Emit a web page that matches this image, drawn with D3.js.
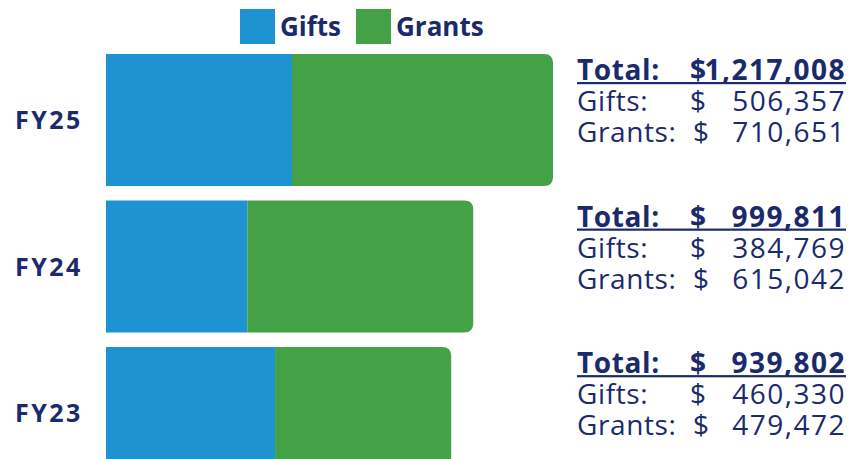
<!DOCTYPE html>
<html>
<head>
<meta charset="utf-8">
<script src="https://cdn.jsdelivr.net/npm/d3@7"></script>
<style>
  body { margin: 0; background: #fff; }
  svg { display: block; font-family: "Open Sans", Lato, sans-serif; }
</style>
</head>
<body>
<svg width="858" height="459"></svg>
<script>
var years = ["FY25", "FY24", "FY23"];
var gifts = [506357, 384769, 460330];
var grants = [710651, 615042, 479472];
var keys = ["Gifts", "Grants"];
var colors = ["#1e93d2", "#45a145"];
var navy = "#1b2a6b";

var svg = d3.select("svg"),
    width = +svg.attr("width"),
    height = +svg.attr("height");

var rows = years.map(function (d, i) {
    return { year: d, Gifts: gifts[i], Grants: grants[i], total: gifts[i] + grants[i] };
});

var x = d3.scaleLinear()
    .domain([0, d3.max(rows, function (d) { return d.total; })])
    .range([106, 553]);

var y = d3.scaleBand()
    .domain(years)
    .range([54, 479])
    .paddingInner(0.1)
    .paddingOuter(0);

var color = d3.scaleOrdinal().domain(keys).range(colors);

var stack = d3.stack().keys(keys)(rows);

// legend
var legend = svg.append("g").attr("class", "legend");
var lx = [240, 356];
keys.forEach(function (k, i) {
    legend.append("rect")
        .attr("x", lx[i]).attr("y", 9)
        .attr("width", 35).attr("height", 35)
        .attr("fill", color(k));
    legend.append("text")
        .attr("x", lx[i] + 40).attr("y", 36)
        .attr("fill", navy)
        .attr("font-size", 26)
        .attr("font-weight", "bold")
        .text(k);
});

// right end of the last segment gets rounded corners
function roundRight(x0, x1, y0, h, r) {
    return "M" + x0 + "," + y0 +
        "H" + (x1 - r) +
        "Q" + x1 + "," + y0 + " " + x1 + "," + (y0 + r) +
        "V" + (y0 + h - r) +
        "Q" + x1 + "," + (y0 + h) + " " + (x1 - r) + "," + (y0 + h) +
        "H" + x0 + "Z";
}

svg.append("g").selectAll("g")
    .data(stack)
    .enter().append("g")
    .attr("fill", function (d) { return color(d.key); })
    .each(function (s, si) {
        d3.select(this).selectAll("path")
            .data(s)
            .enter().append("path")
            .attr("d", function (d) {
                var x0 = x(d[0]), x1 = x(d[1]), y0 = y(d.data.year), h = y.bandwidth();
                if (si == keys.length - 1) return roundRight(x0, x1, y0, h, 9);
                return "M" + x0 + "," + y0 + "H" + x1 + "V" + (y0 + h) + "H" + x0 + "Z";
            });
    });

// year labels
svg.append("g").selectAll("text")
    .data(rows)
    .enter().append("text")
    .attr("x", 15)
    .attr("y", function (d) { return y(d.year) + y.bandwidth() / 2; })
    .attr("dy", "0.36em")
    .attr("fill", navy)
    .attr("font-size", 25)
    .attr("letter-spacing", 2.5)
    .attr("font-weight", "bold")
    .text(function (d) { return d.year; });

// summary blocks
var fmt = d3.format(",");
var block = svg.append("g").selectAll("g")
    .data(rows)
    .enter().append("g")
    .attr("transform", function (d) { return "translate(0," + y(d.year) + ")"; })
    .attr("fill", navy)
    .attr("font-size", 28);

block.each(function (d) {
    var g = d3.select(this);
    var lines = [
        { label: "Total:", value: fmt(d.total), bold: true, dy: 26 },
        { label: "Gifts:", value: fmt(d.Gifts), bold: false, dy: 57 },
        { label: "Grants:", value: fmt(d.Grants), bold: false, dy: 88 }
    ];
    lines.forEach(function (l, i) {
        var fw = l.bold ? "bold" : "normal";
        g.append("text").attr("x", 577).attr("y", l.dy)
            .attr("font-weight", fw).attr("letter-spacing", 0.6).text(l.label);
        g.append("text").attr("x", i == 2 ? 693 : 690).attr("y", l.dy)
            .attr("font-weight", fw).text("$");
        g.append("text").attr("x", 846).attr("y", l.dy)
            .attr("text-anchor", "end").attr("font-weight", fw)
            .attr("letter-spacing", 1.5).text(l.value);
        if (l.bold) {
            g.append("rect")
                .attr("x", 577).attr("y", l.dy + 2)
                .attr("width", 846 - 577).attr("height", 2.2);
        }
    });
});
</script>
</body>
</html>
